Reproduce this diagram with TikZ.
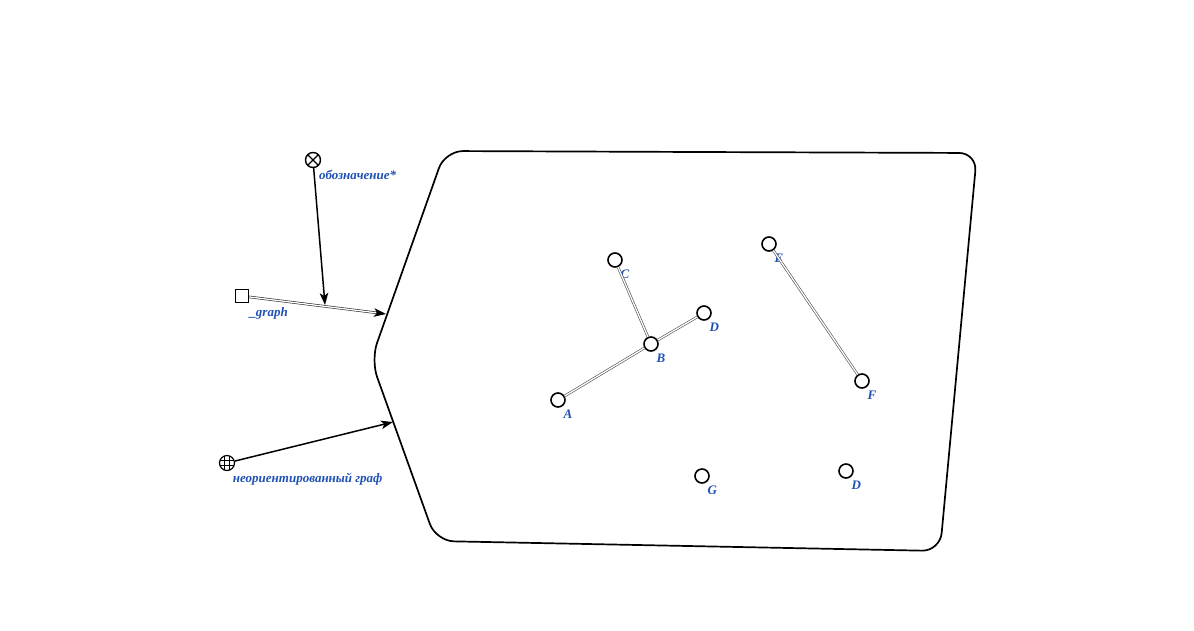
\documentclass[tikz,border=0pt]{standalone}
\usepackage{fontspec}
\setmainfont{Liberation Serif}
\usetikzlibrary{arrows.meta,calc}
\definecolor{labelblue}{RGB}{30,80,180}

\begin{document}
\begin{tikzpicture}
	[x=1pt,y=-1pt,
	vertex/.style={circle,draw=black,line width=1.6pt,fill=white,inner sep=0pt,minimum size=14pt},
	lbl/.style={text=labelblue,font=\fontsize{13}{15}\selectfont\bfseries\itshape,anchor=north west,inner sep=0pt,yshift=-4pt},
	edge/.style={draw=gray!60!black,line width=0.6pt,double=white,double distance=1.3pt},
	link/.style={line width=1.5pt,-{Stealth[length=12pt,width=8.5pt,inset=3pt]}},
	crossmark/.style={circle,draw=black,line width=1.4pt,inner sep=0pt,minimum size=15pt,
		path picture={\draw[line width=1.3pt] (path picture bounding box.north west) -- (path picture bounding box.south east)
			(path picture bounding box.north east) -- (path picture bounding box.south west);}},
	globe/.style={circle,draw=black,line width=1.2pt,inner sep=0pt,minimum size=15pt,
		path picture={\foreach \d in {-2.8,2.8}{
			\draw[line width=0.8pt] ([xshift=\d pt]path picture bounding box.north) -- ([xshift=\d pt]path picture bounding box.south);
			\draw[line width=0.8pt] ([yshift=\d pt]path picture bounding box.west) -- ([yshift=\d pt]path picture bounding box.east);}}},
	sqmark/.style={rectangle,draw=black,line width=1.5pt,inner sep=0pt,minimum size=13pt}]
	
	\useasboundingbox (0,0) rectangle (1194,630);
	
	% container
	\draw[line width=1.7pt,rounded corners=18pt] (700,152) -- (977,153) -- (940,551) -- (436,541) -- (371,360) -- (445,151) -- cycle;
	\coordinate (hitgraph) at (386,314);
	\coordinate (hitglobe) at (393,422);
	\coordinate (hitline) at (325,305);
	
	% markers on the left
	\node (mark) at (313,160) [crossmark, label={[lbl]south east:обозначение*}] {};
	\node (graphsq) at (242,296) [sqmark, label={[lbl]south east:\_graph}] {};
	\node (undirected) at (227,463) [globe, label={[lbl]south east:неориентированный граф}] {};
	
	\draw[edge,draw=black!85] (graphsq) -- ($(hitgraph)!8pt!(graphsq)$);
	\draw[link,line width=1pt] ($(hitgraph)!10pt!(graphsq)$) -- (hitgraph);
	\draw[link] (mark) -- (hitline);
	\draw[link] (undirected) -- (hitglobe);
	
	% graph vertices
	\node (c) at (615,260) [vertex, label={[lbl]south east:C}] {};
	\node (d) at (704,313) [vertex, label={[lbl]south east:D}] {};
	\node (b) at (651,344) [vertex, label={[lbl]south east:B}] {};
	\node (a) at (558,400) [vertex, label={[lbl]south east:A}] {};
	\node (e) at (769,244) [vertex, label={[lbl]south east:E}] {};
	\node (f) at (862,381) [vertex, label={[lbl]south east:F}] {};
	\node (g) at (702,476) [vertex, label={[lbl]south east:G}] {};
	\node (d2) at (846,471) [vertex, label={[lbl]south east:D}] {};
	
	\draw [edge] (a) -- (b);
	\draw [edge] (c) -- (b);
	\draw [edge] (d) -- (b);
	\draw [edge] (e) -- (f);

\end{tikzpicture}
\end{document}
